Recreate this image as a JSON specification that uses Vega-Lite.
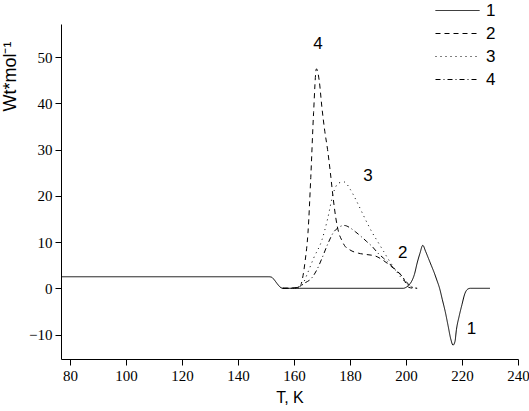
{
  "$schema": "https://vega.github.io/schema/vega-lite/v6.json",
  "width": 457,
  "height": 335,
  "autosize": {"type": "none"},
  "padding": {"left": 61, "top": 24, "right": 11, "bottom": 52},
  "background": "white",
  "config": {
    "view": {"stroke": null},
    "font": "Liberation Sans Narrow",
    "axis": {
      "grid": false,
      "domainColor": "black",
      "tickColor": "black",
      "labelColor": "black",
      "titleColor": "black",
      "labelFont": "Liberation Sans Narrow",
      "titleFont": "Liberation Sans",
      "titleFontWeight": "normal",
      "labelFontSize": 15,
      "labelOverlap": false,
      "labelFlush": false,
      "domainWidth": 1,
      "tickWidth": 1
    }
  },
  "datasets": {
    "curves": [
      {"s": "1", "T": 77, "W": 2.5}, {"s": "1", "T": 151, "W": 2.5}, {"s": "1", "T": 152, "W": 2.4}, {"s": "1", "T": 153, "W": 1.8}, {"s": "1", "T": 154, "W": 1.0}, {"s": "1", "T": 155, "W": 0.3}, {"s": "1", "T": 156, "W": 0},
      {"s": "1", "T": 199, "W": 0}, {"s": "1", "T": 200, "W": 0.2}, {"s": "1", "T": 201, "W": 0.7}, {"s": "1", "T": 202, "W": 1.5}, {"s": "1", "T": 203, "W": 3}, {"s": "1", "T": 204, "W": 5.5}, {"s": "1", "T": 205, "W": 7.6}, {"s": "1", "T": 206, "W": 9.3},
      {"s": "1", "T": 207, "W": 8.0}, {"s": "1", "T": 208, "W": 6.5}, {"s": "1", "T": 209, "W": 5.0}, {"s": "1", "T": 210, "W": 3.5}, {"s": "1", "T": 211, "W": 1.8}, {"s": "1", "T": 212, "W": 0}, {"s": "1", "T": 213, "W": -2.5}, {"s": "1", "T": 214, "W": -5}, {"s": "1", "T": 215, "W": -8}, {"s": "1", "T": 216, "W": -11}, {"s": "1", "T": 216.8, "W": -12.3},
      {"s": "1", "T": 217.5, "W": -11.5}, {"s": "1", "T": 218, "W": -9}, {"s": "1", "T": 219, "W": -6}, {"s": "1", "T": 220, "W": -3.5}, {"s": "1", "T": 221, "W": -1.2}, {"s": "1", "T": 222, "W": -0.2}, {"s": "1", "T": 223, "W": 0}, {"s": "1", "T": 230, "W": 0},

      {"s": "2", "T": 156, "W": 0}, {"s": "2", "T": 162, "W": 0.2}, {"s": "2", "T": 163, "W": 2}, {"s": "2", "T": 164, "W": 6}, {"s": "2", "T": 165, "W": 12}, {"s": "2", "T": 166, "W": 24}, {"s": "2", "T": 167, "W": 38}, {"s": "2", "T": 168, "W": 47.5}, {"s": "2", "T": 169, "W": 45}, {"s": "2", "T": 170, "W": 39},
      {"s": "2", "T": 171, "W": 34}, {"s": "2", "T": 172, "W": 30}, {"s": "2", "T": 173, "W": 25}, {"s": "2", "T": 174, "W": 19.5}, {"s": "2", "T": 175, "W": 15}, {"s": "2", "T": 176, "W": 12}, {"s": "2", "T": 177, "W": 10.5}, {"s": "2", "T": 178, "W": 9.3}, {"s": "2", "T": 180, "W": 8.3}, {"s": "2", "T": 183, "W": 7.6},
      {"s": "2", "T": 186, "W": 7.3}, {"s": "2", "T": 189, "W": 7}, {"s": "2", "T": 192, "W": 6}, {"s": "2", "T": 195, "W": 4.6}, {"s": "2", "T": 197, "W": 3.6}, {"s": "2", "T": 199, "W": 2.3}, {"s": "2", "T": 200, "W": 1}, {"s": "2", "T": 201, "W": 0.2}, {"s": "2", "T": 203, "W": 0},

      {"s": "3", "T": 156, "W": 0}, {"s": "3", "T": 161, "W": 0}, {"s": "3", "T": 163, "W": 0.8}, {"s": "3", "T": 165, "W": 3.5}, {"s": "3", "T": 167, "W": 6.5}, {"s": "3", "T": 170, "W": 10.5}, {"s": "3", "T": 172, "W": 15}, {"s": "3", "T": 174, "W": 20.5}, {"s": "3", "T": 176, "W": 22.8}, {"s": "3", "T": 178, "W": 23},
      {"s": "3", "T": 180, "W": 21.5}, {"s": "3", "T": 182, "W": 19.3}, {"s": "3", "T": 184, "W": 16.8}, {"s": "3", "T": 186, "W": 14.3}, {"s": "3", "T": 188, "W": 12}, {"s": "3", "T": 190, "W": 10}, {"s": "3", "T": 192, "W": 8}, {"s": "3", "T": 194, "W": 6}, {"s": "3", "T": 196, "W": 4.2}, {"s": "3", "T": 198, "W": 2.5}, {"s": "3", "T": 200, "W": 1.2}, {"s": "3", "T": 202, "W": 0.3}, {"s": "3", "T": 204, "W": 0},

      {"s": "4", "T": 156, "W": 0}, {"s": "4", "T": 160, "W": 0}, {"s": "4", "T": 162, "W": 0.4}, {"s": "4", "T": 164, "W": 1.2}, {"s": "4", "T": 166, "W": 2}, {"s": "4", "T": 168, "W": 3.8}, {"s": "4", "T": 170, "W": 6.5}, {"s": "4", "T": 172, "W": 9.5}, {"s": "4", "T": 174, "W": 12}, {"s": "4", "T": 176, "W": 13.2}, {"s": "4", "T": 178, "W": 13.6},
      {"s": "4", "T": 180, "W": 13.1}, {"s": "4", "T": 182, "W": 12.2}, {"s": "4", "T": 184, "W": 11.2}, {"s": "4", "T": 186, "W": 10.1}, {"s": "4", "T": 188, "W": 9}, {"s": "4", "T": 190, "W": 7.6}, {"s": "4", "T": 192, "W": 6.5}, {"s": "4", "T": 194, "W": 5.4}, {"s": "4", "T": 196, "W": 4.1}, {"s": "4", "T": 198, "W": 3}, {"s": "4", "T": 200, "W": 1.5}, {"s": "4", "T": 202, "W": 0.3}, {"s": "4", "T": 204, "W": 0}
    ],
    "labels": [
      {"T": 168.6, "W": 52.8, "t": "4"},
      {"T": 186.4, "W": 24.2, "t": "3"},
      {"T": 198.8, "W": 7.7, "t": "2"},
      {"T": 223.4, "W": -8.8, "t": "1"}
    ]
  },
  "layer": [
    {
      "data": {"name": "curves"},
      "mark": {"type": "line", "strokeWidth": 1, "clip": true, "interpolate": "monotone"},
      "encoding": {
        "x": {
          "field": "T", "type": "quantitative",
          "scale": {"domain": [76.8, 240], "nice": false, "zero": false},
          "axis": {
            "title": "T, K",
            "titleFontSize": 16,
            "titlePadding": 6,
            "values": [80, 90, 100, 110, 120, 130, 140, 150, 160, 170, 180, 190, 200, 210, 220, 230, 240],
            "labelExpr": "datum.value % 20 === 0 ? datum.label : ''",
            "tickSize": {"condition": {"test": "datum.value % 20 === 0", "value": 6}, "value": 3},
            "labelPadding": 3
          }
        },
        "y": {
          "field": "W", "type": "quantitative",
          "scale": {"domain": [-15.3, 57.2], "nice": false, "zero": false},
          "axis": {
            "title": "Wt*mol⁻¹",
            "titleFontSize": 18,
            "titleX": -51,
            "titleY": 52,
            "titleAngle": -90,
            "titleAlign": "center",
            "titleBaseline": "middle",
            "values": [-10, -5, 0, 5, 10, 15, 20, 25, 30, 35, 40, 45, 50, 55],
            "labelExpr": "datum.value % 10 === 0 ? datum.label : ''",
            "tickSize": {"condition": {"test": "datum.value % 10 === 0", "value": 6}, "value": 3},
            "labelPadding": 3
          }
        },
        "detail": {"field": "s"},
        "strokeDash": {
          "field": "s", "type": "nominal",
          "scale": {"domain": ["1", "2", "3", "4"], "range": [[1, 0], [5, 4], [1, 4], [5, 3, 1, 3]]},
          "legend": {
            "title": null,
            "orient": "none",
            "legendX": 374,
            "legendY": -25,
            "symbolType": "stroke",
            "symbolSize": 1936,
            "symbolStrokeColor": "black",
            "symbolStrokeWidth": 1,
            "clipHeight": 23,
            "rowPadding": 0,
            "labelFont": "Liberation Sans",
            "labelFontSize": 17,
            "labelColor": "black",
            "labelOffset": 6
          }
        },
        "color": {"value": "black"}
      }
    },
    {
      "data": {"name": "labels"},
      "mark": {"type": "text", "font": "Liberation Sans", "fontSize": 17, "color": "black", "align": "center", "baseline": "middle"},
      "encoding": {
        "x": {"field": "T", "type": "quantitative"},
        "y": {"field": "W", "type": "quantitative"},
        "text": {"field": "t"}
      }
    }
  ]
}
